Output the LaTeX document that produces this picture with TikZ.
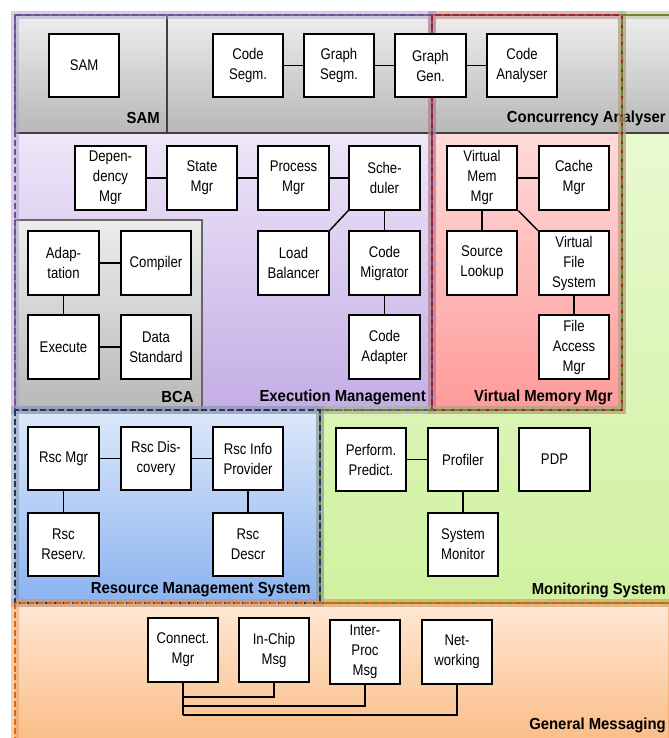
\documentclass[tikz,border=0pt]{standalone}
\usepackage{fontspec}
\setmainfont{Liberation Sans}
\newfontfamily\boxfont[FakeStretch=0.85]{Liberation Sans}
\newfontfamily\grpfont[FakeStretch=0.93]{Liberation Sans}
\definecolor{gryT}{HTML}{EDEDED}
\definecolor{gryB}{HTML}{B8B8B8}
\definecolor{purT}{HTML}{EEE6F8}
\definecolor{purB}{HTML}{C4ADE6}
\definecolor{purL}{HTML}{6E4F9E}
\definecolor{redT}{HTML}{FFDADA}
\definecolor{redB}{HTML}{FF9A9A}
\definecolor{redL}{HTML}{9A2429}
\definecolor{grnT}{HTML}{EFFBDD}
\definecolor{grnB}{HTML}{D0F1A0}
\definecolor{grnL}{HTML}{6A8628}
\definecolor{bluT}{HTML}{DDE9FB}
\definecolor{bluB}{HTML}{8BB3F0}
\definecolor{bluL}{HTML}{1B3860}
\definecolor{orgT}{HTML}{FEE8D5}
\definecolor{orgB}{HTML}{FBBD86}
\definecolor{orgL}{HTML}{E0650A}
\begin{document}
\begin{tikzpicture}[x=0.75pt,y=-0.75pt,
  blk/.style={draw=black,fill=white,line width=1.5pt,minimum width=53pt,minimum height=47.5pt,
    align=center,inner sep=1pt,font=\boxfont\fontsize{11.6}{15}\selectfont},
  lnk/.style={line width=1.1pt},
  grp/.style={anchor=east,inner sep=0pt,font=\grpfont\bfseries\fontsize{12}{14}\selectfont},
  glow/.style={line width=6.5pt,opacity=0.5},
  zone/.style={line width=2.2pt,dash pattern=on 4.5pt off 2.2pt}]
\useasboundingbox (0,0) rectangle (668,738);
\shade[top color=grnT,bottom color=grnB] (622,15) -- (672,15) -- (672,603) -- (320,603) -- (320,410) -- (622,410) -- cycle;
\shade[top color=purT,bottom color=purB] (15,133) rectangle (432,410);
\shade[top color=redT,bottom color=redB] (432,133) rectangle (622,410);
\shade[top color=bluT,bottom color=bluB] (15,410) rectangle (320,603);
\shade[top color=orgT,bottom color=orgB] (15,603) rectangle (672,742);
\shade[top color=gryT,bottom color=gryB,draw=black!75,line width=0.8pt] (15,15) rectangle (167,133);
\shade[top color=gryT,bottom color=gryB,draw=black!75,line width=0.8pt] (167,15) rectangle (672,133);
\shade[top color=gryT,bottom color=gryB,draw=black!60,line width=0.8pt] (15,220) rectangle (202,410);
\node[grp] (samlbl) at (160,118) {SAM};
\node[grp] (calbl) at (666,118) {Concurrency Analyser};
\node[grp] (bcalbl) at (194,397) {BCA};
\node[grp] (emlbl) at (426,397) {Execution Management};
\node[grp] (vmlbl) at (613,397) {Virtual Memory Mgr};
\node[grp] (rmlbl) at (311,590) {Resource Management System};
\node[grp] (mslbl) at (666,590) {Monitoring System};
\node[grp] (gmlbl) at (666,725) {General Messaging};
\draw[glow,purL!55] (15,15) rectangle (432,410);
\draw[glow,redL!65] (432,15) rectangle (622,410);
\draw[glow,grnL!55] (672,15) -- (622,15) -- (622,410) -- (320,410) -- (320,603) -- (672,603);
\draw[glow,bluL!55] (15,410) rectangle (320,603);
\draw[glow,orgL!65] (15,603) rectangle (672,742);
\draw[zone,purL] (15,15) rectangle (432,410);
\draw[zone,redL] (432,15) rectangle (622,410);
\draw[zone,grnL] (672,15) -- (622,15) -- (622,410) -- (320,410) -- (320,603) -- (672,603);
\draw[zone,bluL] (15,410) rectangle (320,603);
\draw[zone,orgL] (15,603) rectangle (672,742);
\node[blk] (sam) at (84,65.5) {SAM};
\node[blk] (cseg) at (248,65.5) {Code\\Segm.};
\node[blk] (gseg) at (339,65.5) {Graph\\Segm.};
\node[blk] (ggen) at (430.5,65.5) {Graph\\Gen.};
\node[blk] (cana) at (522,65.5) {Code\\Analyser};
\node[blk] (dep) at (110.5,178) {Depen-\\dency\\Mgr};
\node[blk] (state) at (202,178) {State\\Mgr};
\node[blk] (proc) at (293.5,178) {Process\\Mgr};
\node[blk] (sched) at (384.5,178) {Sche-\\duler};
\node[blk] (vmem) at (482,178) {Virtual\\Mem\\Mgr};
\node[blk] (cache) at (574,178) {Cache\\Mgr};
\node[blk] (adapt) at (63.5,263) {Adap-\\tation};
\node[blk] (comp) at (156,263) {Compiler};
\node[blk] (load) at (293.5,263) {Load\\Balancer};
\node[blk] (migr) at (384.5,263) {Code\\Migrator};
\node[blk] (src) at (482,263) {Source\\Lookup};
\node[blk] (vfs) at (574,263) {Virtual\\File\\System};
\node[blk] (exec) at (63.5,347) {Execute};
\node[blk] (data) at (156,347) {Data\\Standard};
\node[blk] (cadp) at (384.5,347) {Code\\Adapter};
\node[blk] (fam) at (574,347) {File\\Access\\Mgr};
\node[blk] (rmgr) at (63.5,458.5) {Rsc Mgr};
\node[blk] (rdis) at (156,458.5) {Rsc Dis-\\covery};
\node[blk] (rinf) at (248,458.5) {Rsc Info\\Provider};
\node[blk] (perf) at (371,459.5) {Perform.\\Predict.};
\node[blk] (prof) at (463,459.5) {Profiler};
\node[blk] (pdp) at (554.5,459.5) {PDP};
\node[blk] (rres) at (63.5,544.5) {Rsc\\Reserv.};
\node[blk] (rdsc) at (248,544.5) {Rsc\\Descr};
\node[blk] (smon) at (463,544.5) {System\\Monitor};
\node[blk] (conn) at (183,650) {Connect.\\Mgr};
\node[blk] (chip) at (274,650) {In-Chip\\Msg};
\node[blk] (iproc) at (365,652) {Inter-\\Proc\\Msg};
\node[blk] (net) at (457,652) {Net-\\working};
\coordinate (bus1) at (183,697);
\coordinate (bus2) at (183,706);
\coordinate (bus3) at (183,715);
\draw[lnk] (cseg) -- (gseg);
\draw[lnk] (gseg) -- (ggen);
\draw[lnk] (ggen) -- (cana);
\draw[lnk] (dep) -- (state);
\draw[lnk] (state) -- (proc);
\draw[lnk] (proc) -- (sched);
\draw[lnk] (vmem) -- (cache);
\draw[lnk] (sched.south west) -- (load.north east);
\draw[lnk] (sched) -- (migr);
\draw[lnk] (migr) -- (cadp);
\draw[lnk] (vmem) -- (src);
\draw[lnk] (vmem.south east) -- (vfs.north west);
\draw[lnk] (vfs) -- (fam);
\draw[lnk] (adapt) -- (comp);
\draw[lnk] (adapt) -- (exec);
\draw[lnk] (exec) -- (data);
\draw[lnk] (rmgr) -- (rdis);
\draw[lnk] (rdis) -- (rinf);
\draw[lnk] (rmgr) -- (rres);
\draw[lnk] (rinf) -- (rdsc);
\draw[lnk] (perf) -- (prof);
\draw[lnk] (prof) -- (smon);
\draw[lnk] (conn) -- (bus3);
\draw[lnk] (chip) |- (bus1);
\draw[lnk] (iproc) |- (bus2);
\draw[lnk] (net) |- (bus3);
\end{tikzpicture}
\end{document}
